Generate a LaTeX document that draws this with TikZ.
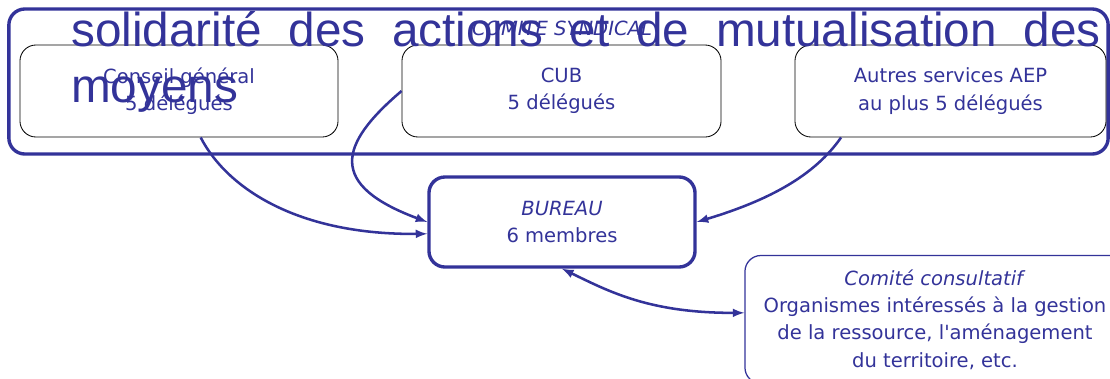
\documentclass[tikz,border=0pt]{standalone}
\usepackage{fontspec}
\setmainfont{DejaVu Sans}
\newfontfamily\grandefonte{Liberation Sans}
\definecolor{bleu}{RGB}{51,51,153}

\def \taille {\fontsize{13.9}{19.5}\selectfont}
\def \largeurtitre {25.725cm}

\tikzset{
  delegation/.style={draw=black, line width=0.6pt, rounded corners=0.4cm, minimum height=2.3cm, align=center, text=bleu, font=\taille},
  instance/.style={draw=bleu, line width=2.4pt, rounded corners=0.4cm, align=center, text=bleu, font=\taille},
  lien/.style={bleu, line width=1.8pt, ->, >=latex},
}

\begin{document}
\begin{tikzpicture}[x=0.025cm, y=-0.025cm]
\useasboundingbox (0,0) rectangle (1110,378);

% comite syndical
\node[instance, minimum width=27.475cm, minimum height=3.625cm] (comite) at (558.5,81.5) {};
\node[text=bleu, font=\taille\itshape] (nomcomite) at (562,28) {COMITE SYNDICAL};
\node[delegation, minimum width=7.95cm] (cg) at (179,91) {Conseil général\\5 délégués};
\node[delegation, minimum width=7.975cm] (cub) at (561.5,91) {CUB\\5 délégués};
\node[delegation, minimum width=7.775cm] (aep) at (950.5,91) {Autres services AEP\\au plus 5 délégués};

% bureau
\node[instance, minimum width=6.65cm, minimum height=2.25cm] (bureau) at (562,222) {\textit{BUREAU}\\6 membres};

% comite consultatif
\node[instance, line width=0.9pt, minimum width=9.5cm, minimum height=3.2cm] (consult) at (935,319.5)
  {\textit{Comité consultatif}\\Organismes intéressés à la gestion\\de la ressource, l\textquotesingle aménagement\\du territoire, etc.};

\draw[lien] (cg.-65) .. controls (228,190) and (300,235) .. (bureau.185);
\draw[lien] (cub.west) .. controls (338,145) and (328,185) .. (bureau.west);
\draw[lien] (aep.-157) .. controls (815,175) and (770,200) .. (bureau.east);
\draw[lien, <->] (bureau.south) .. controls (610,292) and (650,313) .. (consult.178);

% titre qui deborde
\node[anchor=base west, inner sep=0pt, text width=\largeurtitre, align=left, text=bleu,
  font=\grandefonte\fontsize{33.9}{40.5}\selectfont] (titre) at (71,46)
  {\makebox[\largeurtitre][l]{solidarité\hfill des\hfill actions\hfill et\hfill de\hfill mutualisation\hfill des}\\moyens};
\end{tikzpicture}
\end{document}
